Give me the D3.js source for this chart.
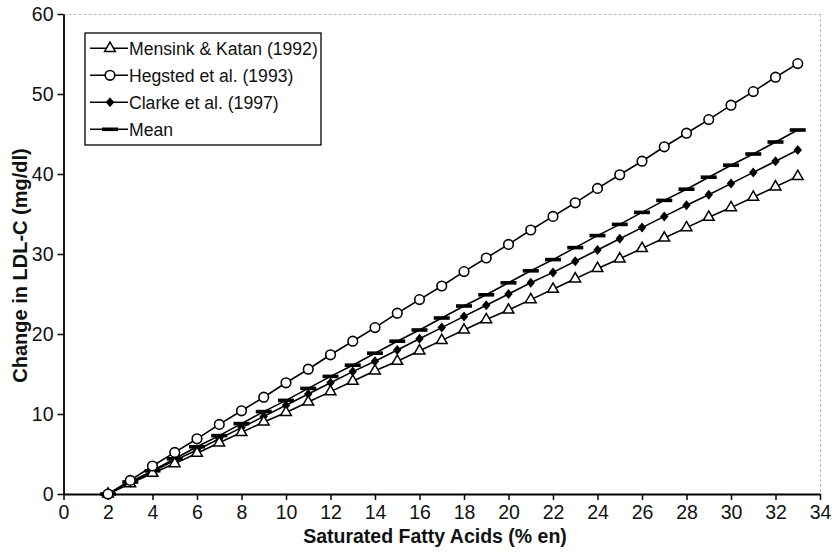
<!DOCTYPE html>
<html><head><meta charset="utf-8">
<script src="https://cdn.jsdelivr.net/npm/d3@7/dist/d3.min.js"></script>
<style>body{margin:0;background:#fff}svg{display:block}text{font-family:"Liberation Sans",Arial,Helvetica,sans-serif}</style>
</head><body>
<script>
const xValues = [2,3,4,5,6,7,8,9,10,11,12,13,14,15,16,17,18,19,20,21,22,23,24,25,26,27,28,29,30,31,32,33];
const mensink = [0,1.3,2.6,3.8,5.1,6.4,7.7,9.0,10.2,11.5,12.8,14.1,15.4,16.6,17.9,19.2,20.5,21.8,23.0,24.3,25.6,26.9,28.2,29.4,30.7,32.0,33.3,34.6,35.8,37.1,38.4,39.7];
const hegsted = [0,1.7,3.5,5.2,6.9,8.7,10.4,12.1,13.9,15.6,17.4,19.1,20.8,22.6,24.3,26.0,27.8,29.5,31.2,33.0,34.7,36.4,38.2,39.9,41.6,43.4,45.1,46.8,48.6,50.3,52.1,53.8];
const clarke = [0,1.4,2.8,4.2,5.5,6.9,8.3,9.7,11.1,12.5,13.9,15.3,16.6,18.0,19.4,20.8,22.2,23.6,25.0,26.4,27.7,29.1,30.5,31.9,33.3,34.7,36.1,37.4,38.8,40.2,41.6,43.0];
const meanVals = [0,1.5,2.9,4.4,5.9,7.3,8.8,10.3,11.7,13.2,14.7,16.1,17.6,19.1,20.5,22.0,23.5,24.9,26.4,27.9,29.3,30.8,32.3,33.7,35.2,36.7,38.1,39.6,41.1,42.5,44.0,45.5];
const seriesNames = ["Mensink & Katan (1992)","Hegsted et al. (1993)","Clarke et al. (1997)","Mean"];
const xTicks = [0,2,4,6,8,10,12,14,16,18,20,22,24,26,28,30,32,34];
const yTicks = [0,10,20,30,40,50,60];
const xTitle = "Saturated Fatty Acids (% en)";
const yTitle = "Change in LDL-C (mg/dl)";

const W = 832, H = 552;
const L = 63.5, R = 820, T = 14, B = 494;
const svg = d3.select("body").append("svg").attr("width", W).attr("height", H);
const x = d3.scaleLinear().domain([0,34]).range([L,R]);
const y = d3.scaleLinear().domain([0,60]).range([B,T]);

// frame edges (dashed light gray top/right)
svg.append("line").attr("x1",L).attr("x2",R).attr("y1",T+0.5).attr("y2",T+0.5)
  .attr("stroke","#aaa").attr("stroke-width",0.8).attr("stroke-dasharray","3,2");
svg.append("line").attr("x1",R+0.5).attr("x2",R+0.5).attr("y1",T).attr("y2",B)
  .attr("stroke","#aaa").attr("stroke-width",0.8).attr("stroke-dasharray","3,2");

const xAxis = svg.append("g").attr("transform",`translate(0,${B})`)
  .call(d3.axisBottom(x).tickValues(xTicks).tickSize(6).tickSizeOuter(0).tickPadding(5));
const yAxis = svg.append("g").attr("transform",`translate(${L},0)`)
  .call(d3.axisLeft(y).tickValues(yTicks).tickSize(6).tickSizeOuter(0).tickPadding(4));
[xAxis,yAxis].forEach(a=>{
  a.selectAll("path").attr("stroke","#000").attr("stroke-width",1.8);
  a.selectAll("line").attr("stroke","#000").attr("stroke-width",1.5);
  a.selectAll("text").attr("font-size",19.5).attr("fill","#111").attr("font-family","Liberation Sans, Arial, sans-serif");
});

svg.append("text").attr("x",435).attr("y",543).attr("text-anchor","middle")
  .attr("font-size",19.5).attr("font-weight","bold").attr("fill","#111").text(xTitle);
svg.append("text").attr("transform",`translate(27,265.5) rotate(-90)`).attr("text-anchor","middle")
  .attr("font-size",20).attr("font-weight","bold").attr("fill","#111").text(yTitle);

const allSeries = [mensink, hegsted, clarke, meanVals];
const types = ["tri","circ","diam","dash"];
const line = d3.line().x((d,i)=>x(xValues[i])).y(d=>y(d));

function marker(g, type){
  if(type==="tri") g.append("path").attr("d", d3.symbol(d3.symbolTriangle, 50)()).attr("fill","#fff").attr("stroke","#000").attr("stroke-width",1.5);
  else if(type==="circ") g.append("circle").attr("r",4.8).attr("fill","#fff").attr("stroke","#000").attr("stroke-width",1.6);
  else if(type==="diam") g.append("path").attr("d","M0,-5L4.2,0L0,5L-4.2,0Z").attr("fill","#000");
  else g.append("rect").attr("x",-8).attr("y",-1.8).attr("width",16).attr("height",3.6).attr("fill","#000");
}

const order = [3,2,0,1];
order.forEach(k=>{
  const vals = allSeries[k];
  svg.append("path").datum(vals).attr("d",line).attr("fill","none").attr("stroke","#000").attr("stroke-width",1.6);
  vals.forEach((v,i)=>{
    const g = svg.append("g").attr("transform",`translate(${x(xValues[i])},${y(v)})`);
    marker(g, types[k]);
  });
});

// legend
const lg = svg.append("g");
lg.append("rect").attr("x",85).attr("y",33).attr("width",236).attr("height",112)
  .attr("fill","#fff").attr("stroke","#000").attr("stroke-width",1.3);
seriesNames.forEach((n,i)=>{
  const yy = 48.3 + i*27;
  lg.append("line").attr("x1",90).attr("x2",128).attr("y1",yy).attr("y2",yy).attr("stroke","#000").attr("stroke-width",1.6);
  const g = lg.append("g").attr("transform",`translate(110,${yy})`);
  marker(g, types[i]);
  lg.append("text").attr("x",129).attr("y",yy).attr("dy","0.36em").attr("font-size",17.6).attr("fill","#111").text(n);
});
</script>
</body></html>
